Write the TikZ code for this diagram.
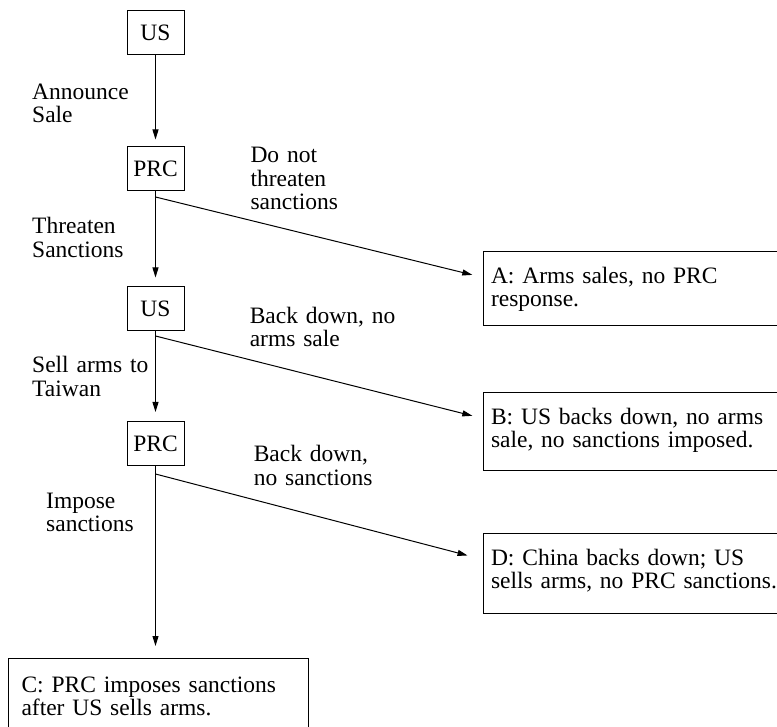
\documentclass[tikz,border=0pt]{standalone}
\usepackage{fontspec}
\setmainfont{Liberation Serif}
\usetikzlibrary{arrows.meta}
\begin{document}
\begin{tikzpicture}
% Game tree: arms sale to Taiwan
\providecommand{\treeLineWidth}{1pt}
\providecommand{\treeFont}{\fontsize{23.5}{23.3}\selectfont}
\begin{scope}[x=1pt, y=-1pt, line width=\treeLineWidth,
    player/.style={draw, minimum width=57pt, minimum height=44pt, inner sep=0pt, font=\treeFont},
    outcome/.style={draw, anchor=north west, align=left, text width=300pt, inner xsep=7.5pt, inner ysep=0pt, text height=32pt, font=\treeFont},
    move/.style={anchor=base west, align=left, text width=150pt, inner sep=0pt, font=\treeFont},
    branch/.style={-{Triangle[length=10pt,width=6pt]}, shorten >=9pt}]
  % Page size and cut at the right and lower edges
  \useasboundingbox (0,0) rectangle (777,727);
  \clip (0,0) rectangle (777,727);
  % Decision nodes
  \node[player] (us1)  at (155.5,32.5) {US};
  \node[player] (prc1) at (155.5,169)  {PRC};
  \node[player] (us2)  at (155.5,309)  {US};
  \node[player] (prc2) at (155.5,443.5) {PRC};
  % Branch points below the decision nodes
  \coordinate (b1) at (155.5,197);
  \coordinate (b2) at (155.5,336);
  \coordinate (b3) at (155.5,474);
  % Outcomes
  \node[outcome, text depth=42pt] (outA) at (483,251) {A: Arms sales, no PRC\\response.};
  \node[outcome, text depth=46pt] (outB) at (483,392) {B: US backs down, no arms\\sale, no sanctions imposed.};
  \node[outcome, text depth=48pt] (outD) at (483,533) {D: China backs down; US\\sells arms, no PRC sanctions.};
  \node[outcome, text depth=60pt, text height=33.7pt, inner xsep=13pt, text width=274pt] (outC) at (8,658) {C: PRC imposes sanctions\\after US sells arms.};
  % Moves
  \node[move] (announce) at (31.7,99.3)  {Announce\\Sale};
  \node[move] (threaten) at (31.7,234)   {Threaten\\Sanctions};
  \node[move] (sell)     at (31.7,373)   {Sell arms to\\Taiwan};
  \node[move] (impose)   at (45.7,508)   {Impose\\sanctions};
  \node[move] (nothreat) at (250,163)    {Do not\\threaten\\sanctions};
  \node[move] (backus)   at (249.3,323.3) {Back down, no\\arms sale};
  \node[move] (backprc)  at (253.3,461.7) {Back down,\\no sanctions};
  % Connectors
  \draw[branch, shorten >=7pt] (us1) -- (prc1);
  \draw (prc1.south) -- (b1);
  \draw[branch] (b1) -- (us2);
  \draw[branch, shorten >=11pt] (b1) -- ([yshift=6pt]outA.base west);
  \draw (us2.south) -- (b2);
  \draw[branch] (b2) -- (prc2);
  \draw[branch, shorten >=11pt] (b2) -- ([yshift=6pt]outB.base west);
  \draw (prc2.south) -- (b3);
  \draw[branch, shorten >=12pt] (b3) -- (b3 |- outC.north);
  \draw[branch, shorten >=16pt] (b3) -- ([yshift=6pt]outD.base west);
\end{scope}
\end{tikzpicture}
\end{document}
